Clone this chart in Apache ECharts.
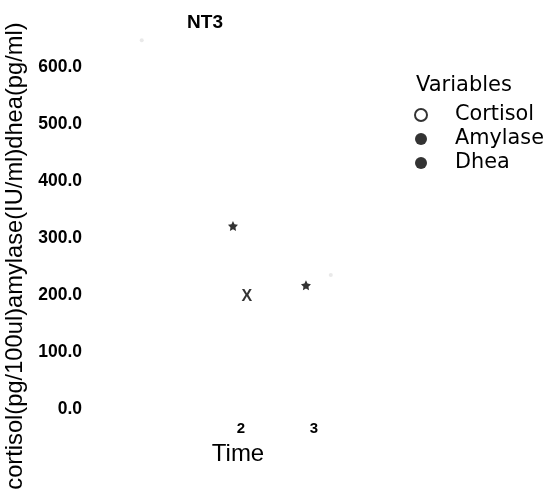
<!DOCTYPE html>
<html><head><meta charset="utf-8">
<script src="https://cdn.jsdelivr.net/npm/echarts@6/dist/echarts.min.js"></script>
<style>html,body{margin:0;padding:0;background:#fff}#c{width:550px;height:499px}</style>
</head><body><div id="c"></div>
<script>
const xTickLabels = [2, 3];
const yTicks = [0, 100, 200, 300, 400, 500, 600];
const cortisolPts = [[0.64, 647], [3.23, 235]];
const amylasePts = [[1.89, 321], [2.89, 217]];
const dheaPts = [[2.08, 198]];
const legendNames = ['Cortisol', 'Amylase', 'Dhea'];

const starPath = 'path://M0,-10L2.94,-4.05L9.51,-3.09L4.76,1.55L5.88,8.09L0,5L-5.88,8.09L-4.76,1.55L-9.51,-3.09L-2.94,-4.05Z';
const arial = 'Liberation Sans, Arial, sans-serif';
const dv = 'DejaVu Sans, sans-serif';
const chart = echarts.init(document.getElementById('c'), null, {renderer: 'canvas'});
chart.setOption({
  animation: false,
  backgroundColor: '#fff',
  textStyle: {fontFamily: arial},
  title: [
    {text: 'NT3', left: 200, top: 8, textAlign: 'center', textStyle: {fontSize: 19, fontWeight: 'bold', color: '#000', fontFamily: arial}},
    {text: 'Variables', left: 411, top: 70, textStyle: {fontSize: 21, fontWeight: 'normal', color: '#000', fontFamily: dv}}
  ],
  legend: {
    orient: 'vertical', left: 409, top: 98, itemWidth: 12, itemHeight: 12, itemGap: 0,
    textStyle: {fontSize: 20.8, color: '#000', fontFamily: dv, lineHeight: 16, padding: [8, 0, 0, 23]},
    data: [
      {name: legendNames[0], icon: 'emptyCircle', itemStyle: {color: '#000', borderColor: '#000', borderWidth: 1.2}},
      {name: legendNames[1], icon: 'circle', itemStyle: {color: '#000'}},
      {name: legendNames[2], icon: 'circle', itemStyle: {color: '#000'}}
    ]
  },
  grid: {left: 95, top: 10, width: 292, bottom: 90, containLabel: false, outerBoundsMode: 'none'},
  xAxis: {
    type: 'value', min: 0, max: 4, interval: 1,
    name: 'Time', nameLocation: 'middle', nameGap: 33,
    nameTextStyle: {fontSize: 24, color: '#000', fontFamily: arial, padding: [0, 6, 0, 0]},
    axisLine: {show: false}, axisTick: {show: false}, splitLine: {show: false},
    axisLabel: {fontSize: 15, fontWeight: 'bold', color: '#000', margin: 12, fontFamily: arial,
      formatter: v => xTickLabels.includes(v) ? String(v) : ''}
  },
  yAxis: {
    type: 'value', min: 0, max: 700, interval: 100,
    name: 'cortisol(pg/100ul)amylase(IU/ml)dhea(pg/ml)', nameLocation: 'middle', nameGap: 61, nameRotate: 90,
    nameTextStyle: {fontSize: 23.7, color: '#000', fontFamily: arial, padding: [0, 93, 0, 0]},
    axisLine: {show: false}, axisTick: {show: false}, splitLine: {show: false},
    axisLabel: {fontSize: 17.5, fontWeight: 'bold', color: '#000', margin: 13, fontFamily: arial,
      formatter: v => yTicks.includes(v) ? v.toFixed(1) : ''}
  },
  series: [
    {name: legendNames[0], type: 'scatter', data: cortisolPts, symbol: 'circle', symbolSize: 4,
      itemStyle: {color: '#e4e4e4'}},
    {name: legendNames[1], type: 'scatter', data: amylasePts, symbol: starPath, symbolSize: 10,
      itemStyle: {color: '#000'}},
    {name: legendNames[2], type: 'scatter', data: dheaPts, symbol: 'circle', symbolSize: 0.1,
      itemStyle: {color: 'rgba(0,0,0,0)'},
      label: {show: true, position: 'inside', formatter: 'X', fontSize: 16, fontWeight: 'bold', color: '#000', fontFamily: arial}}
  ]
});
</script></body></html>
